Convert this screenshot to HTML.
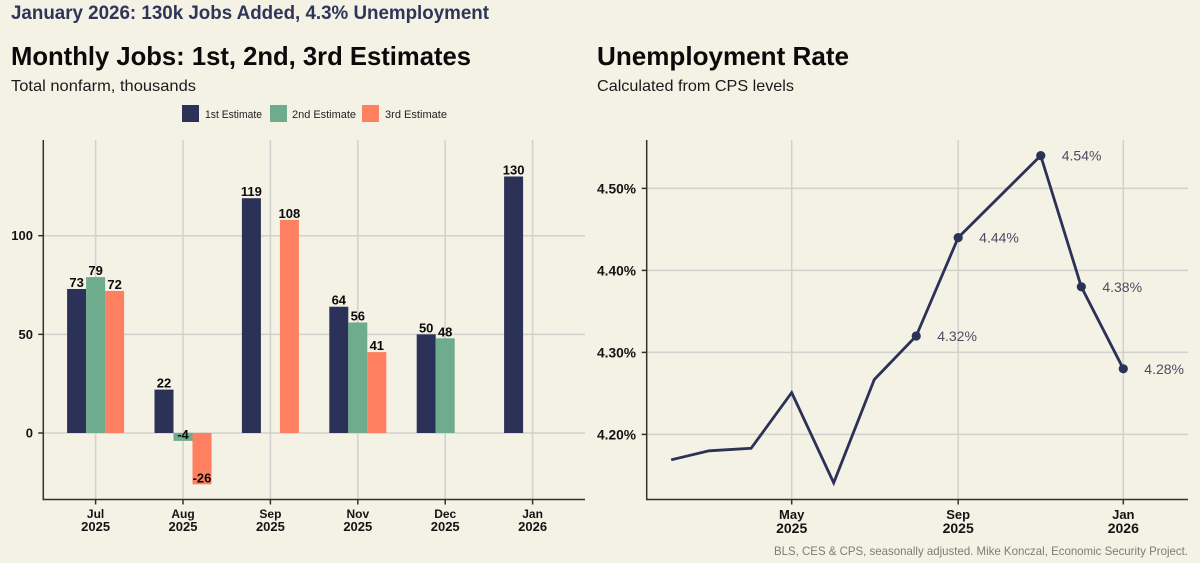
<!DOCTYPE html>
<html lang="en">
<head>
<meta charset="utf-8">
<title>January 2026: 130k Jobs Added, 4.3% Unemployment</title>
<style>
html,body{margin:0;padding:0;background:#f4f1e5;}
svg{display:block;font-family:"Liberation Sans",sans-serif;}
</style>
</head>
<body>
<svg id="chart" xmlns="http://www.w3.org/2000/svg" width="1200" height="563" viewBox="0 0 1200 563">
  <rect width="1200" height="563" fill="#f4f1e5"/>
  <text x="11" y="19" font-size="19.5" font-weight="700" fill="#2f3559" textLength="478" lengthAdjust="spacingAndGlyphs">January 2026: 130k Jobs Added, 4.3% Unemployment</text>
  <text x="11" y="65" font-size="26" font-weight="700" fill="#0a0a0a" textLength="460" lengthAdjust="spacingAndGlyphs">Monthly Jobs: 1st, 2nd, 3rd Estimates</text>
  <text x="11" y="91" font-size="16" fill="#1a1a1a" textLength="185" lengthAdjust="spacingAndGlyphs">Total nonfarm, thousands</text>
  <text x="597" y="65" font-size="26" font-weight="700" fill="#0a0a0a" textLength="252" lengthAdjust="spacingAndGlyphs">Unemployment Rate</text>
  <text x="597" y="91" font-size="16" fill="#1a1a1a" textLength="197" lengthAdjust="spacingAndGlyphs">Calculated from CPS levels</text>

  <g>
    <rect x="182" y="105" width="17" height="17" fill="#2b3157"/>
    <text x="205" y="118" font-size="11" fill="#222" textLength="57" lengthAdjust="spacingAndGlyphs">1st Estimate</text>
    <rect x="270" y="105" width="17" height="17" fill="#6fac8e"/>
    <text x="292" y="118" font-size="11" fill="#222" textLength="64" lengthAdjust="spacingAndGlyphs">2nd Estimate</text>
    <rect x="362" y="105" width="17" height="17" fill="#ff8060"/>
    <text x="385" y="118" font-size="11" fill="#222" textLength="62" lengthAdjust="spacingAndGlyphs">3rd Estimate</text>
  </g>

  <g id="jobs-chart"></g>
  <g id="rate-chart"></g>

  <text x="1188" y="555" text-anchor="end" font-size="12" fill="#7c7c78" textLength="414" lengthAdjust="spacingAndGlyphs">BLS, CES &amp; CPS, seasonally adjusted. Mike Konczal, Economic Security Project.</text>
</svg>
<script>
// ---- Jobs chart data ----
var jobMonths = ["Jul", "Aug", "Sep", "Nov", "Dec", "Jan"];
var jobYears = ["2025", "2025", "2025", "2025", "2025", "2026"];
var firstEstimate = [73, 22, 119, 64, 50, 130];
var secondEstimate = [79, -4, null, 56, 48, null];
var thirdEstimate = [72, -26, 108, 41, null, null];
var jobTicks = [0, 50, 100];

// ---- Unemployment chart data ----
var rateDates = ["2025-02-01", "2025-03-01", "2025-04-01", "2025-05-01", "2025-06-01", "2025-07-01", "2025-08-01", "2025-09-01", "2025-11-01", "2025-12-01", "2026-01-01"];
var rateValues = [4.169, 4.18, 4.183, 4.251, 4.141, 4.267, 4.32, 4.44, 4.54, 4.38, 4.28];
var labeledDates = ["2025-08-01", "2025-09-01", "2025-11-01", "2025-12-01", "2026-01-01"];
var rateTicks = [4.2, 4.3, 4.4, 4.5];
var rateXTickDates = ["2025-05-01", "2025-09-01", "2026-01-01"];
var rateXTickMonths = ["May", "Sep", "Jan"];
var rateXTickYears = ["2025", "2025", "2026"];

var NS = "http://www.w3.org/2000/svg";
var NAVY = "#2b3157", GREEN = "#6fac8e", CORAL = "#ff8060";
var GRID = "#d1d1cd", AXIS = "#33312c", INK = "#141414";

function make(parent, tag, attrs, text) {
  var n = document.createElementNS(NS, tag);
  for (var k in attrs) n.setAttribute(k, attrs[k]);
  if (text !== undefined) n.textContent = text;
  parent.appendChild(n);
  return n;
}

// ---- Jobs chart ----
var jobsRoot = document.getElementById("jobs-chart");
var jobsBox = { left: 43.3, right: 585, top: 140, bottom: 499.5 };
var barWidth = 19;
function jobsX(i) { return 95.6 + i * 87.4; }
function jobsY(v) { return 433 - v * 1.973; }

jobTicks.forEach(function (t) {
  var g = make(jobsRoot, "line", { x1: jobsBox.left, x2: jobsBox.right, y1: jobsY(t), y2: jobsY(t), stroke: GRID, "stroke-width": 1.5 });
  
  
  var tk = make(jobsRoot, "line", { x1: jobsBox.left - 5, x2: jobsBox.left, y1: jobsY(t), y2: jobsY(t), stroke: AXIS, "stroke-width": 1.5 });
  
  
  var lb = make(jobsRoot, "text", { x: 33, y: jobsY(t) + 4.5, "text-anchor": "end", "font-size": 13, "font-weight": 700, fill: INK }, String(t));
  
  
});

jobMonths.forEach(function (m, i) {
  var x = jobsX(i);
  var g = make(jobsRoot, "line", { x1: x, x2: x, y1: jobsBox.top, y2: jobsBox.bottom, stroke: GRID, "stroke-width": 1.5 });
  
  
  var tk = make(jobsRoot, "line", { x1: x, x2: x, y1: jobsBox.bottom, y2: jobsBox.bottom + 5, stroke: AXIS, "stroke-width": 1.5 });
  
  
  var l1 = make(jobsRoot, "text", { x: x, y: 518, "text-anchor": "middle", "font-size": 12, "font-weight": 700, fill: INK }, m);
  
  
  var l2 = make(jobsRoot, "text", { x: x, y: 531, "text-anchor": "middle", "font-size": 13, "font-weight": 700, fill: INK }, jobYears[i]);
  
  
});

function drawBars(values, offset, color, seriesName) {
  values.forEach(function (v, i) {
    if (v === null) return;
    var cx = jobsX(i) + offset * barWidth;
    var y0 = jobsY(0), y1 = jobsY(v);
    var r = make(jobsRoot, "rect", { x: cx - barWidth / 2, y: Math.min(y0, y1), width: barWidth, height: Math.abs(y1 - y0), fill: color });
    
    
  });
}
function drawBarLabels(values, offset, seriesName) {
  values.forEach(function (v, i) {
    if (v === null) return;
    var cx = jobsX(i) + offset * barWidth;
    var t = make(jobsRoot, "text", { x: cx, y: jobsY(v) - 2, "text-anchor": "middle", "font-size": 13, "font-weight": 700, fill: "#0a0a0a" }, String(v));
    
    
  });
}
drawBars(firstEstimate, -1, NAVY, "1st-estimate");
drawBars(secondEstimate, 0, GREEN, "2nd-estimate");
drawBars(thirdEstimate, 1, CORAL, "3rd-estimate");
drawBarLabels(firstEstimate, -1, "1st-estimate");
drawBarLabels(secondEstimate, 0, "2nd-estimate");
drawBarLabels(thirdEstimate, 1, "3rd-estimate");

var jobsYAxis = make(jobsRoot, "line", { x1: jobsBox.left, x2: jobsBox.left, y1: jobsBox.top, y2: jobsBox.bottom + 0.75, stroke: AXIS, "stroke-width": 1.5 });


var jobsXAxis = make(jobsRoot, "line", { x1: jobsBox.left, x2: jobsBox.right, y1: jobsBox.bottom, y2: jobsBox.bottom, stroke: AXIS, "stroke-width": 1.5 });



// ---- Unemployment chart ----
var rateRoot = document.getElementById("rate-chart");
var rateBox = { left: 646.7, right: 1188, top: 140, bottom: 499.5 };
function rateX(d) {
  var t0 = Date.UTC(2025, 4, 1), t1 = Date.UTC(2026, 0, 1);
  var p = d.split("-");
  var t = Date.UTC(+p[0], +p[1] - 1, +p[2]);
  return 791.7 + (t - t0) / (t1 - t0) * (1123.3 - 791.7);
}
function rateY(v) { return 434.4 - (v - 4.2) * 820; }

rateTicks.forEach(function (t) {
  var g = make(rateRoot, "line", { x1: rateBox.left, x2: rateBox.right, y1: rateY(t), y2: rateY(t), stroke: GRID, "stroke-width": 1.5 });
  
  
  var tk = make(rateRoot, "line", { x1: rateBox.left - 5, x2: rateBox.left, y1: rateY(t), y2: rateY(t), stroke: AXIS, "stroke-width": 1.5 });
  
  
  var lb = make(rateRoot, "text", { x: 636, y: rateY(t) + 5, "text-anchor": "end", "font-size": 13.75, "font-weight": 700, fill: INK }, t.toFixed(2) + "%");
  
  
});

rateXTickDates.forEach(function (d, i) {
  var x = rateX(d);
  var g = make(rateRoot, "line", { x1: x, x2: x, y1: rateBox.top, y2: rateBox.bottom, stroke: GRID, "stroke-width": 1.5 });
  
  
  var tk = make(rateRoot, "line", { x1: x, x2: x, y1: rateBox.bottom, y2: rateBox.bottom + 5, stroke: AXIS, "stroke-width": 1.5 });
  
  
  var l1 = make(rateRoot, "text", { x: x, y: 519, "text-anchor": "middle", "font-size": 13, "font-weight": 700, fill: INK }, rateXTickMonths[i]);
  
  
  var l2 = make(rateRoot, "text", { x: x, y: 533, "text-anchor": "middle", "font-size": 14, "font-weight": 700, fill: INK }, rateXTickYears[i]);
  
  
});

var ratePts = rateDates.map(function (d, i) { return rateX(d).toFixed(1) + "," + rateY(rateValues[i]).toFixed(1); }).join(" ");
var rateLine = make(rateRoot, "polyline", { points: ratePts, fill: "none", stroke: NAVY, "stroke-width": 2.8, "stroke-linejoin": "miter" });



labeledDates.forEach(function (d) {
  var idx = rateDates.indexOf(d);
  var x = rateX(d), y = rateY(rateValues[idx]);
  var c = make(rateRoot, "circle", { cx: x, cy: y, r: 4.6, fill: NAVY });
  
  
  var t = make(rateRoot, "text", { x: x + 21, y: y + 5, "font-size": 14, fill: "#4a4d63" }, rateValues[idx].toFixed(2) + "%");
  
  
});

var rateYAxis = make(rateRoot, "line", { x1: rateBox.left, x2: rateBox.left, y1: rateBox.top, y2: rateBox.bottom + 0.75, stroke: AXIS, "stroke-width": 1.5 });


var rateXAxis = make(rateRoot, "line", { x1: rateBox.left, x2: rateBox.right, y1: rateBox.bottom, y2: rateBox.bottom, stroke: AXIS, "stroke-width": 1.5 });


</script>
</body>
</html>
